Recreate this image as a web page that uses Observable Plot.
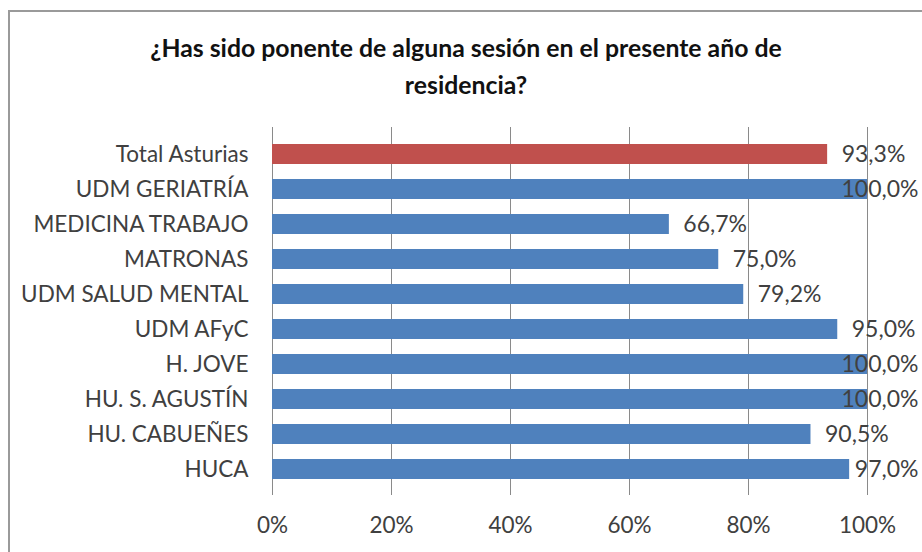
<!DOCTYPE html>
<html>
<head>
<meta charset="utf-8">
<script src="https://cdn.jsdelivr.net/npm/d3@7"></script>
<script src="https://cdn.jsdelivr.net/npm/@observablehq/plot@0.6"></script>
<style>
  body { margin: 0; background: #fff; width: 922px; height: 552px; overflow: hidden; position: relative; }
  #frame { position: absolute; left: 8px; top: 10px; width: 1000px; height: 1000px; border: 2px solid #9a9a9a; box-sizing: border-box; pointer-events: none; }
  #title { position: absolute; left: 0; top: 29px; width: 932px; text-align: center; font-family: Lato, sans-serif; font-weight: bold; font-size: 24.8px; line-height: 37px; color: #111; }
  #chart { position: absolute; left: 0; top: 110px; }
</style>
</head>
<body>
<div id="frame"></div>
<div id="title">¿Has sido ponente de alguna sesión en el presente año de<br>residencia?</div>
<div id="chart"></div>
<script>
const categories = ["Total Asturias", "UDM GERIATRÍA", "MEDICINA TRABAJO", "MATRONAS", "UDM SALUD MENTAL", "UDM AFyC", "H. JOVE", "HU. S. AGUSTÍN", "HU. CABUEÑES", "HUCA"];
const values = [93.3, 100, 66.7, 75.0, 79.2, 95.0, 100, 100, 90.5, 97.0];
const xTicks = [0, 20, 40, 60, 80, 100];

const data = categories.map((c, i) => ({category: c, value: values[i]}));
const fmt = v => v.toFixed(1).replace(".", ",") + "%";
const BLUE = "#4f81bd", RED = "#c0504d", TXT = "#404040";

const plot = Plot.plot({
  width: 922,
  height: 442,
  marginTop: 17,
  marginBottom: 57,
  marginLeft: 272,
  marginRight: 55,
  style: {fontFamily: "Lato, sans-serif", fontSize: "22.5px", color: TXT, background: "transparent", overflow: "visible"},
  x: {domain: [0, 100], ticks: xTicks, tickFormat: d => d + "%", label: null, tickSize: 0, tickPadding: 22},
  y: {domain: categories, padding: 0.43, label: null, tickSize: 0, tickPadding: 24},
  marks: [
    Plot.ruleX(xTicks, {stroke: "#8a8a8a", strokeWidth: 1}),
    Plot.barX(data, {y: "category", x: "value", fill: d => d.category === "Total Asturias" ? RED : BLUE}),
    Plot.text(data.filter(d => d.value < 96), {y: "category", x: "value", text: d => fmt(d.value), textAnchor: "start", dx: 14, fill: TXT, fontSize: 23}),
    Plot.text(data.filter(d => d.value >= 96), {y: "category", text: d => fmt(d.value), frameAnchor: "right", textAnchor: "end", dx: 51, fill: TXT, fontSize: 23})
  ]
});
document.getElementById("chart").appendChild(plot);
</script>
</body>
</html>
